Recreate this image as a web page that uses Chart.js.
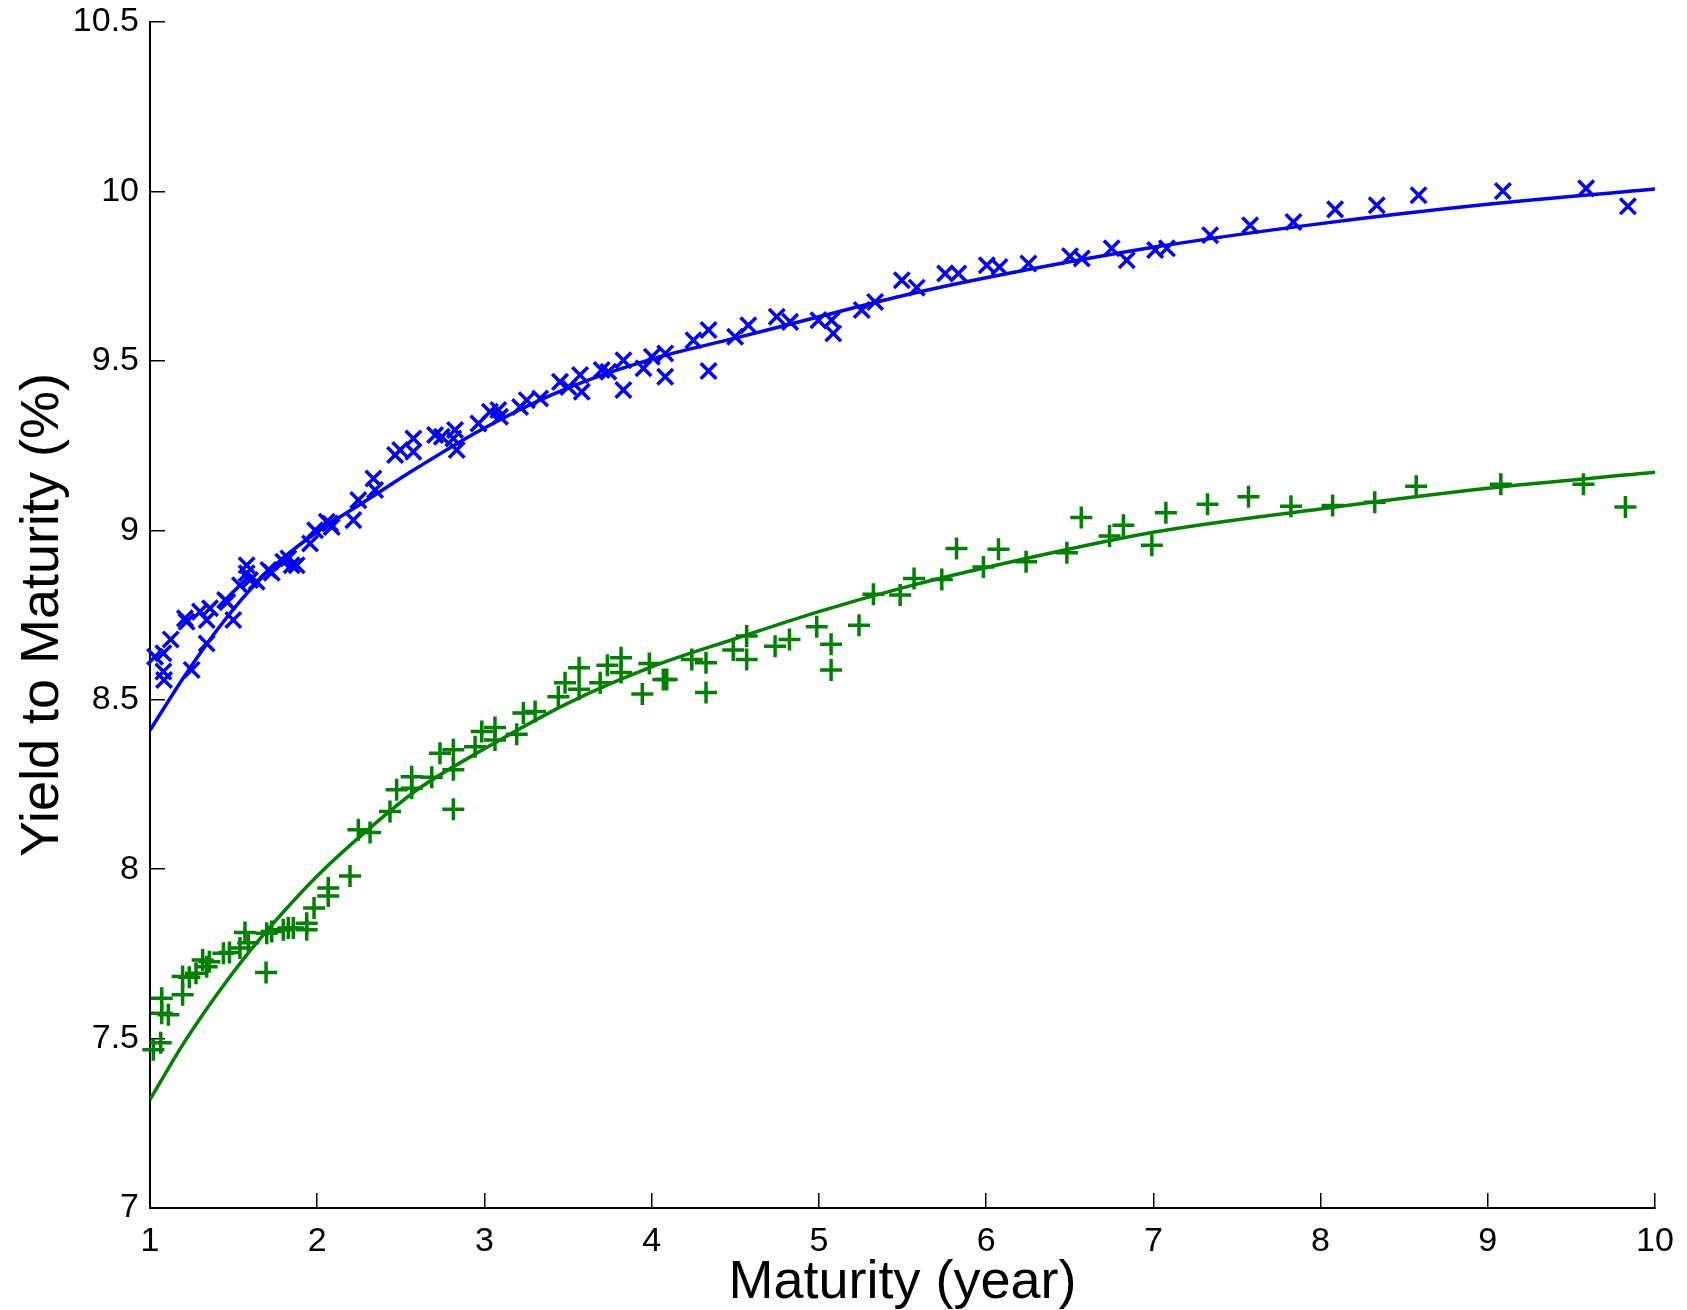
<!DOCTYPE html>
<html>
<head>
<meta charset="utf-8">
<title>Yield to Maturity</title>
<script src="https://cdn.jsdelivr.net/npm/chart.js@4.4.1/dist/chart.umd.min.js"></script>
<style>
	html, body { margin: 0; padding: 0; background: #fff; }
	#wrap { width: 1687px; height: 1310px; }
</style>
</head>
<body>
<div id="wrap"><canvas id="ytmChart" width="1687" height="1310"></canvas></div>
<script>
const xTicks = [1, 2, 3, 4, 5, 6, 7, 8, 9, 10];
const yTicks = [7, 7.5, 8, 8.5, 9, 9.5, 10, 10.5];

// observed yields, first curve (blue x)
const blueMaturity = [
	1.03, 1.08, 1.08, 1.084, 1.124, 1.209, 1.219, 1.249, 1.299, 1.339, 1.359, 1.339,
	1.449, 1.463, 1.498, 1.538, 1.578, 1.578, 1.598, 1.638, 1.708, 1.728, 1.797, 1.827,
	1.847, 1.877, 1.957, 1.987, 2.057, 2.077, 2.087, 2.216, 2.246, 2.336, 2.346, 2.466,
	2.496, 2.575, 2.575, 2.705, 2.745, 2.814, 2.824, 2.834, 2.964, 3.033, 3.083, 3.093,
	3.213, 3.253, 3.333, 3.452, 3.502, 3.572, 3.582, 3.701, 3.741, 3.831, 3.831, 3.951,
	4.001, 4.081, 4.081, 4.25, 4.34, 4.34, 4.499, 4.578, 4.748, 4.828, 4.997, 5.076,
	5.086, 5.256, 5.336, 5.496, 5.585, 5.755, 5.834, 6.004, 6.08, 6.253, 6.502, 6.572,
	6.751, 6.841, 7.011, 7.081, 7.34, 7.579, 7.838, 8.087, 8.336, 8.586, 9.09, 9.588, 9.838,
];
const blueYield = [
	8.627, 8.637, 8.583, 8.558, 8.678, 8.74, 8.73, 8.588, 8.76, 8.735, 8.77, 8.666,
	8.794, 8.788, 8.735, 8.838, 8.897, 8.873, 8.853, 8.848, 8.883, 8.875, 8.907, 8.917,
	8.897, 8.897, 8.961, 9.0, 9.025, 9.02, 9.01, 9.03, 9.089, 9.153, 9.119, 9.222,
	9.237, 9.271, 9.232, 9.281, 9.276, 9.271, 9.296, 9.237, 9.315, 9.35, 9.355, 9.335,
	9.364, 9.384, 9.389, 9.438, 9.423, 9.458, 9.409, 9.473, 9.468, 9.502, 9.414, 9.478,
	9.512, 9.522, 9.453, 9.561, 9.591, 9.47, 9.571, 9.605, 9.63, 9.615, 9.62, 9.62,
	9.581, 9.65, 9.674, 9.738, 9.716, 9.758, 9.758, 9.782, 9.777, 9.787, 9.809, 9.802,
	9.832, 9.797, 9.827, 9.832, 9.871, 9.9, 9.91, 9.947, 9.959, 9.989, 10.001, 10.009, 9.956,
];

// observed yields, second curve (green +)
const greenMaturity = [
	1.02, 1.064, 1.07, 1.07, 1.11, 1.195, 1.195, 1.235, 1.275, 1.315, 1.339, 1.355,
	1.439, 1.475, 1.538, 1.568, 1.588, 1.694, 1.698, 1.728, 1.797, 1.827, 1.857, 1.937,
	1.937, 1.981, 2.066, 2.066, 2.196, 2.246, 2.316, 2.435, 2.475, 2.565, 2.565, 2.685,
	2.734, 2.814, 2.814, 2.814, 2.944, 2.984, 3.063, 3.063, 3.193, 3.233, 3.303, 3.442,
	3.482, 3.566, 3.566, 3.692, 3.735, 3.817, 3.817, 3.944, 3.986, 4.07, 4.09, 4.24,
	4.325, 4.325, 4.488, 4.568, 4.568, 4.738, 4.824, 4.987, 5.073, 5.073, 5.24, 5.326,
	5.486, 5.569, 5.735, 5.823, 5.984, 6.074, 6.239, 6.483, 6.569, 6.738, 6.821, 6.991,
	7.075, 7.324, 7.569, 7.823, 8.072, 8.324, 8.572, 9.078, 9.572, 9.823,
];
const greenYield = [
	7.467, 7.488, 7.619, 7.575, 7.57, 7.629, 7.683, 7.681, 7.693, 7.732, 7.712, 7.727,
	7.752, 7.754, 7.767, 7.813, 7.783, 7.695, 7.811, 7.816, 7.821, 7.826, 7.826, 7.84,
	7.821, 7.885, 7.944, 7.921, 7.98, 8.116, 8.108, 8.17, 8.234, 8.273, 8.239, 8.271,
	8.342, 8.293, 8.352, 8.177, 8.361, 8.406, 8.418, 8.381, 8.398, 8.461, 8.465, 8.509,
	8.55, 8.594, 8.531, 8.55, 8.602, 8.624, 8.58, 8.517, 8.607, 8.56, 8.56, 8.619,
	8.609, 8.521, 8.647, 8.688, 8.619, 8.658, 8.678, 8.715, 8.664, 8.588, 8.72, 8.811,
	8.809, 8.858, 8.855, 8.946, 8.892, 8.944, 8.907, 8.934, 9.038, 8.983, 9.015, 8.956,
	9.052, 9.077, 9.099, 9.071, 9.073, 9.083, 9.13, 9.136, 9.136, 9.069,
];

// fitted curves
const fitMaturity = [1, 1.2, 1.4, 1.6, 1.8, 2, 2.3, 2.6, 3, 3.5, 4, 4.5, 5, 5.5, 6, 7, 8, 9, 10];
const blueFit = [8.41, 8.565, 8.705, 8.825, 8.92, 8.995, 9.09, 9.185, 9.302, 9.42, 9.505, 9.567, 9.63, 9.692, 9.745, 9.835, 9.905, 9.962, 10.007];
const greenFit = [7.32, 7.485, 7.63, 7.76, 7.875, 7.98, 8.115, 8.235, 8.355, 8.49, 8.597, 8.68, 8.76, 8.83, 8.89, 8.994, 9.063, 9.124, 9.171];

const BLUE = "#0000ff";
const GREEN = "#008000";
const FONT = "'Liberation Sans', Arial, Helvetica, sans-serif";

function toPoints(xs, ys) {
	return xs.map(function (x, i) {
		return { x: x, y: ys[i] };
	});
}

var ctx = document.getElementById("ytmChart");
var ytmChart = new Chart(ctx, {
	type: "scatter",
	data: {
		datasets: [
			{
				label: "blue observed",
				data: toPoints(blueMaturity, blueYield),
				pointStyle: "crossRot",
				pointRadius: 11,
				pointBorderWidth: 3.5,
				borderColor: BLUE,
				backgroundColor: BLUE,
				clip: false,
			},
			{
				label: "green observed",
				data: toPoints(greenMaturity, greenYield),
				pointStyle: "cross",
				pointRadius: 11,
				pointBorderWidth: 3.5,
				borderColor: GREEN,
				backgroundColor: GREEN,
				clip: false,
			},
			{
				label: "blue fit",
				type: "line",
				data: toPoints(fitMaturity, blueFit),
				borderColor: BLUE,
				borderWidth: 3.5,
				pointRadius: 0,
				cubicInterpolationMode: "monotone",
				fill: false,
			},
			{
				label: "green fit",
				type: "line",
				data: toPoints(fitMaturity, greenFit),
				borderColor: GREEN,
				borderWidth: 3.5,
				pointRadius: 0,
				cubicInterpolationMode: "monotone",
				fill: false,
			},
		],
	},
	options: {
		responsive: false,
		animation: false,
		devicePixelRatio: 1,
		layout: {
			padding: { left: 0, right: 32, top: 22, bottom: 0 },
		},
		scales: {
			x: {
				type: "linear",
				position: "bottom",
				min: 1,
				max: 10,
				afterBuildTicks: function (scale) {
					scale.ticks = xTicks.map(function (v) { return { value: v }; });
				},
				afterFit: function (scale) {
					scale.height = 102;
					scale.paddingLeft = 0;
					scale.paddingRight = 0;
				},
				grid: {
					drawOnChartArea: false,
					drawTicks: true,
					tickLength: -15,
					color: "#000",
					lineWidth: 1.5,
				},
				border: { display: true, color: "#000", width: 2 },
				ticks: {
					padding: 28,
					maxRotation: 0,
					color: "#000",
					font: { family: FONT, size: 34 },
					callback: function (value) { return String(value); },
				},
				title: {
					display: true,
					text: "Maturity (year)",
					color: "#000",
					font: { family: FONT, size: 54, lineHeight: 1.0 },
					padding: { top: 0, bottom: 0 },
				},
			},
			y: {
				type: "linear",
				position: "left",
				min: 7,
				max: 10.5,
				afterBuildTicks: function (scale) {
					scale.ticks = yTicks.map(function (v) { return { value: v }; });
				},
				afterFit: function (scale) {
					scale.width = 150;
					scale.paddingTop = 0;
					scale.paddingBottom = 0;
				},
				grid: {
					drawOnChartArea: false,
					drawTicks: true,
					tickLength: -15,
					color: "#000",
					lineWidth: 1.5,
				},
				border: { display: true, color: "#000", width: 2 },
				ticks: {
					padding: 26,
					color: "#000",
					font: { family: FONT, size: 34 },
					callback: function (value) { return String(value); },
				},
				title: {
					display: true,
					text: "Yield to Maturity (%)",
					color: "#000",
					font: { family: FONT, size: 54 },
					padding: { top: 11, bottom: 0 },
				},
			},
		},
		plugins: {
			legend: { display: false },
			tooltip: { enabled: false },
		},
	},
});
</script>
</body>
</html>
